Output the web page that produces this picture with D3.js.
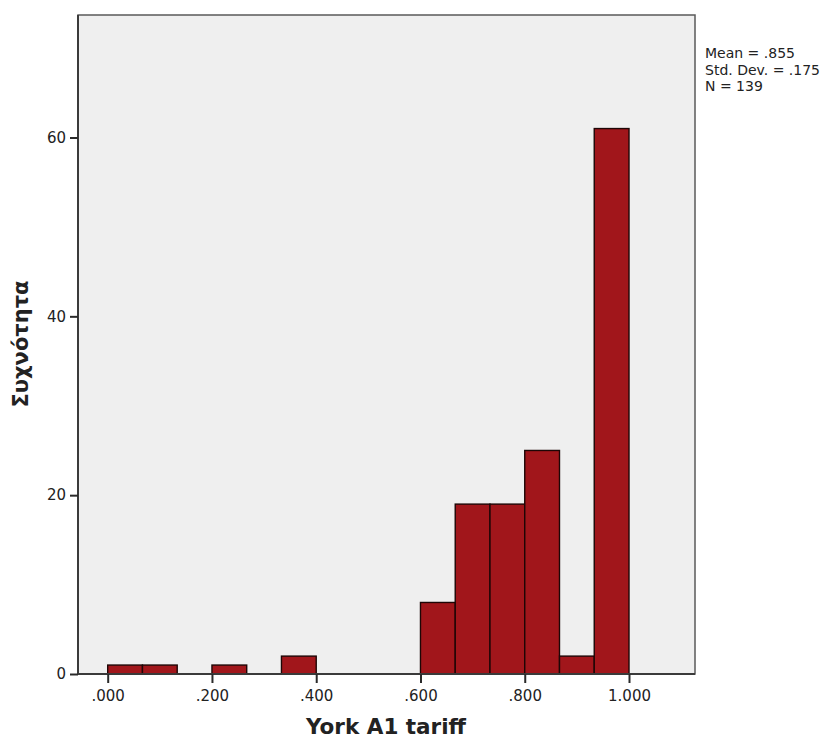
<!DOCTYPE html>
<html>
<head>
<meta charset="utf-8">
<script src="https://cdn.jsdelivr.net/npm/d3@7"></script>
<style>
  body { margin: 0; background: #fff; }
  text { font-family: "DejaVu Sans", sans-serif; }
</style>
</head>
<body>
<div class="wrapper"></div>
<script>
// histogram bins (lower edge, upper edge, count)
var binStart = [0, 1 / 15, 3 / 15, 5 / 15, 9 / 15, 10 / 15, 11 / 15, 12 / 15, 13 / 15, 14 / 15];
var binEnd = [1 / 15, 2 / 15, 4 / 15, 6 / 15, 10 / 15, 11 / 15, 12 / 15, 13 / 15, 14 / 15, 1];
var counts = [1, 1, 1, 2, 8, 19, 19, 25, 2, 61];
var xTicks = [0, 0.2, 0.4, 0.6, 0.8, 1.0];
var xTickLabels = [".000", ".200", ".400", ".600", ".800", "1.000"];
var yTicks = [0, 20, 40, 60];
var statsLines = ["Mean = .855", "Std. Dev. = .175", "N = 139"];

var W = 835, H = 738;
var plot = { left: 78, top: 15, right: 695, bottom: 674 };

var svg = d3
  .select(".wrapper")
  .append("svg")
  .attr("width", W)
  .attr("height", H);

var x = d3
  .scaleLinear()
  .domain([0, 1])
  .range([107.7, 629]);
var y = d3
  .scaleLinear()
  .domain([0, 60])
  .range([plot.bottom, 137.5]);

// background
svg
  .append("rect")
  .attr("x", plot.left)
  .attr("y", plot.top)
  .attr("width", plot.right - plot.left)
  .attr("height", plot.bottom - plot.top)
  .attr("fill", "#efefef")
  .attr("stroke", "#5a5a5a")
  .attr("stroke-width", 1.5);

// bars
svg
  .selectAll("rect.bar")
  .data(counts)
  .enter()
  .append("rect")
  .attr("class", "bar")
  .attr("x", function(d, i) { return x(binStart[i]); })
  .attr("width", function(d, i) { return x(binEnd[i]) - x(binStart[i]); })
  .attr("y", function(d) { return y(d); })
  .attr("height", function(d) { return y(0) - y(d); })
  .attr("fill", "#a1161b")
  .attr("stroke", "#1e0606")
  .attr("stroke-width", 1.4);

// left and bottom axis lines
svg
  .append("line")
  .attr("x1", plot.left).attr("x2", plot.left)
  .attr("y1", plot.top).attr("y2", plot.bottom)
  .attr("stroke", "#3a3a3a").attr("stroke-width", 2);
svg
  .append("line")
  .attr("x1", plot.left).attr("x2", plot.right)
  .attr("y1", plot.bottom).attr("y2", plot.bottom)
  .attr("stroke", "#3a3a3a").attr("stroke-width", 2);

// x axis
var xAxis = svg
  .append("g")
  .attr("transform", "translate(0," + plot.bottom + ")")
  .call(
    d3.axisBottom(x)
      .tickValues(xTicks)
      .tickSize(9)
      .tickPadding(7)
      .tickFormat(function(d, i) { return xTickLabels[i]; })
  );
xAxis.select(".domain").remove();
xAxis.selectAll("line").attr("stroke", "#2a2a2a").attr("stroke-width", 2);
xAxis.selectAll("text").attr("font-size", 15).attr("fill", "#222").style("font-family", "'DejaVu Sans', sans-serif");

// y axis
var yAxis = svg
  .append("g")
  .attr("transform", "translate(" + plot.left + ",0)")
  .call(d3.axisLeft(y).tickValues(yTicks).tickSize(8).tickPadding(4));
yAxis.select(".domain").remove();
yAxis.selectAll("line").attr("stroke", "#2a2a2a").attr("stroke-width", 2);
yAxis.selectAll("text").attr("font-size", 15).attr("fill", "#222").style("font-family", "'DejaVu Sans', sans-serif");

// axis titles
svg
  .append("text")
  .attr("x", 386)
  .attr("y", 734)
  .attr("text-anchor", "middle")
  .attr("font-size", 21.5)
  .attr("font-weight", "bold")
  .attr("fill", "#222")
  .text("York A1 tariff");

svg
  .append("text")
  .attr("transform", "translate(28," + 344 + ") rotate(-90)")
  .attr("text-anchor", "middle")
  .attr("font-size", 21)
  .attr("font-weight", "bold")
  .attr("fill", "#222")
  .text("Συχνότητα");

// stats box
svg
  .append("g")
  .selectAll("text")
  .data(statsLines)
  .enter()
  .append("text")
  .attr("x", 705)
  .attr("y", function(d, i) { return 58 + i * 16.5; })
  .attr("font-size", 14)
  .attr("fill", "#222")
  .text(function(d) { return d; });
</script>
</body>
</html>
